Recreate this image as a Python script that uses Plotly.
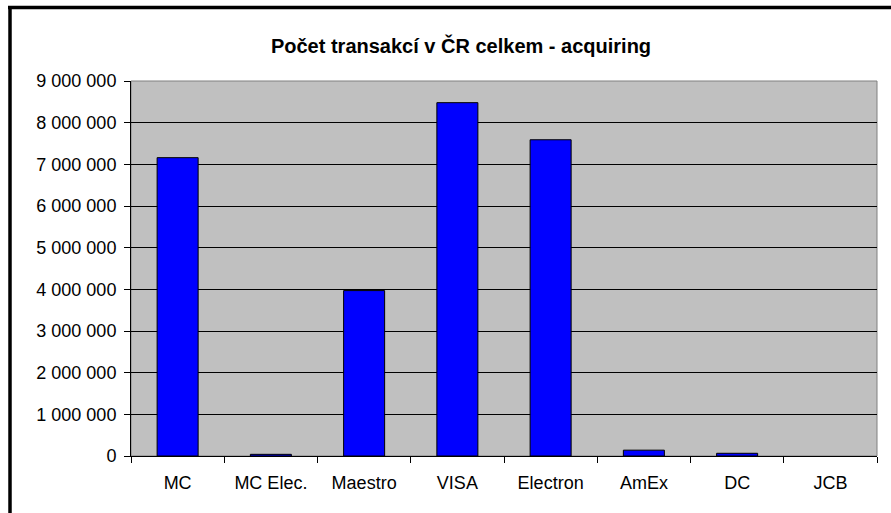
import plotly.graph_objects as go

categories = ["MC", "MC Elec.", "Maestro", "VISA", "Electron", "AmEx", "DC", "JCB"]
transactions = [7160000, 40000, 3970000, 8480000, 7590000, 140000, 65000, 0]
y_ticks = [0, 1000000, 2000000, 3000000, 4000000, 5000000, 6000000, 7000000, 8000000, 9000000]
title_text = "Počet transakcí v ČR celkem - acquiring"

ML, MR, MT, MB = 131, 14, 81, 57
W, H = 891, 513
PW, PH = W - ML - MR, H - MT - MB

fig = go.Figure(go.Bar(
    x=categories, y=transactions,
    marker=dict(color="#0000FF",
                line=dict(color="#000000", width=[1 if v > 0 else 0 for v in transactions])),
))

def px_to_paper_x(px):
    return (px - ML) / PW

def px_to_paper_y(py):
    return 1 - (py - MT) / PH

font = "Liberation Sans, Arial, sans-serif"
fig.update_layout(
    width=W, height=H,
    margin=dict(l=ML, r=MR, t=MT, b=MB, pad=0),
    paper_bgcolor="white", plot_bgcolor="#C0C0C0",
    separators=", ",
    bargap=0.56,
    showlegend=False,
    font=dict(family=font, size=18, color="black"),
    title=dict(text="<b>" + title_text + "</b>", x=461 / W, xanchor="center",
               y=1 - 46 / H, yanchor="middle", xref="container", yref="container",
               font=dict(family=font, size=20, color="black")),
    xaxis=dict(type="category", showgrid=False, showline=True, linecolor="black", linewidth=1,
               ticks="outside", tickson="boundaries", ticklen=6, tickcolor="black",
               ticklabelstandoff=10, zeroline=False),
    yaxis=dict(range=[0, 9000000], tickvals=y_ticks, tickformat=",d",
               showgrid=True, gridcolor="black", gridwidth=1,
               showline=True, linecolor="black", linewidth=1,
               ticks="outside", ticklen=6, tickcolor="black",
               ticklabelstandoff=4, zeroline=False),
    shapes=[
        dict(type="rect", xref="paper", yref="paper", x0=0, x1=1, y0=0, y1=1,
             line=dict(color="#808080", width=1), layer="below"),
        dict(type="line", xref="paper", yref="paper",
             x0=px_to_paper_x(8), x1=px_to_paper_x(900),
             y0=px_to_paper_y(7.5), y1=px_to_paper_y(7.5),
             line=dict(color="black", width=3.5)),
        dict(type="line", xref="paper", yref="paper",
             x0=px_to_paper_x(10), x1=px_to_paper_x(10),
             y0=px_to_paper_y(6), y1=px_to_paper_y(530),
             line=dict(color="black", width=3.5)),
    ],
)

fig.write_html("out.html", config={"displayModeBar": False},
               post_script="document.body.style.margin='0';document.body.style.overflow='hidden';")
